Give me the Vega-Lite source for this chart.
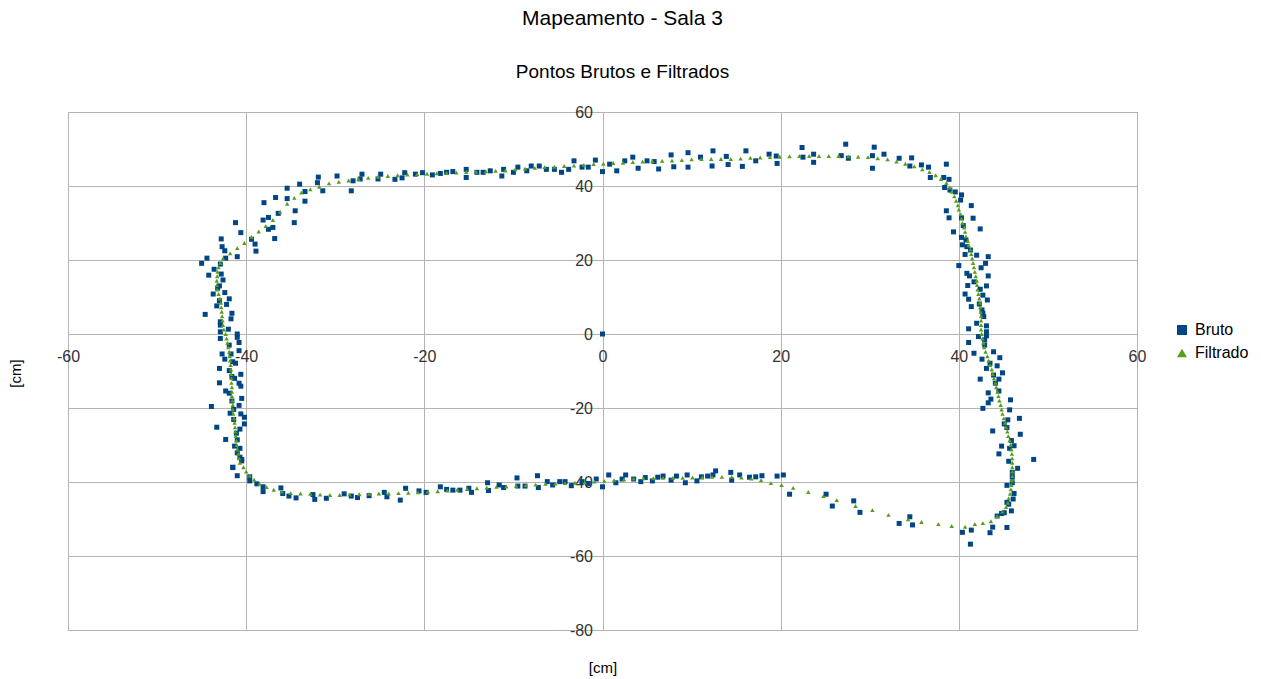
{
"$schema": "https://vega.github.io/schema/vega-lite/v6.json",
"width": 1069, "height": 518,
"autosize": {"type": "none"},
"padding": {"left": 68, "top": 112, "right": 124, "bottom": 49},
"background": "white",
"title": {"text": "Mapeamento - Sala 3", "subtitle": "Pontos Brutos e Filtrados", "anchor": "middle", "frame": "group", "dx": 20, "fontSize": 21, "subtitleFontSize": 19, "font": "Liberation Sans", "subtitleFont": "Liberation Sans", "fontWeight": "normal", "color": "#000", "subtitleColor": "#000", "offset": 22, "subtitlePadding": 34},
"config": {"view": {"stroke": "#b3b3b3", "strokeWidth": 1}, "font": "Liberation Sans"},
"data": {"values": [
{"x":0,"y":0,"s":"Bruto"},
{"x":-31.9,"y":42.4,"s":"Bruto"},{"x":-29.8,"y":42.7,"s":"Bruto"},{"x":-32,"y":40.9,"s":"Bruto"},{"x":-34,"y":40.5,"s":"Bruto"},{"x":-31.4,"y":38.7,"s":"Bruto"},{"x":-35.4,"y":39.4,"s":"Bruto"},{"x":-33.4,"y":38.5,"s":"Bruto"},{"x":-36.7,"y":36.9,"s":"Bruto"},{"x":-35.4,"y":36.6,"s":"Bruto"},{"x":-38,"y":35.5,"s":"Bruto"},{"x":-33.4,"y":35.9,"s":"Bruto"},{"x":-34.5,"y":33.3,"s":"Bruto"},{"x":-36.4,"y":32.6,"s":"Bruto"},{"x":-37.5,"y":31.5,"s":"Bruto"},{"x":-38.1,"y":30.8,"s":"Bruto"},{"x":-34.6,"y":30.1,"s":"Bruto"},{"x":-41.2,"y":30.1,"s":"Bruto"},{"x":-37,"y":28.8,"s":"Bruto"},{"x":-37.5,"y":28.3,"s":"Bruto"},{"x":-40.6,"y":27.4,"s":"Bruto"},{"x":-39.4,"y":25.6,"s":"Bruto"},{"x":-36.8,"y":25.8,"s":"Bruto"},{"x":-42.8,"y":25.7,"s":"Bruto"},{"x":-39,"y":24.3,"s":"Bruto"},{"x":-42.7,"y":23.6,"s":"Bruto"},{"x":-42.4,"y":22.5,"s":"Bruto"},{"x":-38.9,"y":22.4,"s":"Bruto"},{"x":-41,"y":20.9,"s":"Bruto"},{"x":-44.4,"y":20.5,"s":"Bruto"},{"x":-42.3,"y":20.5,"s":"Bruto"},{"x":-45,"y":19.1,"s":"Bruto"},{"x":-42.9,"y":18.9,"s":"Bruto"},{"x":-43.6,"y":17.5,"s":"Bruto"},{"x":-42.8,"y":16.2,"s":"Bruto"},{"x":-44.2,"y":15.9,"s":"Bruto"},{"x":-42.6,"y":14.6,"s":"Bruto"},{"x":-43,"y":13,"s":"Bruto"},{"x":-43.2,"y":12.4,"s":"Bruto"},{"x":-43.7,"y":10.8,"s":"Bruto"},{"x":-42.4,"y":11.2,"s":"Bruto"},{"x":-41.9,"y":9.5,"s":"Bruto"},{"x":-43,"y":9,"s":"Bruto"},{"x":-42.2,"y":8,"s":"Bruto"},{"x":-43.3,"y":7.6,"s":"Bruto"},{"x":-41.6,"y":5.6,"s":"Bruto"},{"x":-44.6,"y":5.3,"s":"Bruto"},{"x":-41.7,"y":4.1,"s":"Bruto"},{"x":-42.9,"y":3.3,"s":"Bruto"},{"x":-42.9,"y":2.4,"s":"Bruto"},{"x":-42,"y":1.3,"s":"Bruto"},{"x":-42.9,"y":0.6,"s":"Bruto"},{"x":-41,"y":0,"s":"Bruto"},{"x":-41,"y":-0.9,"s":"Bruto"},{"x":-42.9,"y":-1.2,"s":"Bruto"},
{"x":-41.9,"y":-3,"s":"Bruto"},{"x":-40.8,"y":-2.3,"s":"Bruto"},{"x":-42.7,"y":-5.4,"s":"Bruto"},{"x":-41.7,"y":-5.4,"s":"Bruto"},{"x":-40.8,"y":-4.5,"s":"Bruto"},{"x":-42.4,"y":-6.8,"s":"Bruto"},{"x":-41.5,"y":-7.5,"s":"Bruto"},{"x":-41.2,"y":-7.9,"s":"Bruto"},{"x":-43,"y":-9.3,"s":"Bruto"},{"x":-41.9,"y":-9.9,"s":"Bruto"},{"x":-40.6,"y":-10.9,"s":"Bruto"},{"x":-41.6,"y":-11.5,"s":"Bruto"},{"x":-41.3,"y":-12,"s":"Bruto"},{"x":-43,"y":-13.2,"s":"Bruto"},{"x":-40.8,"y":-13.3,"s":"Bruto"},{"x":-40.6,"y":-14.1,"s":"Bruto"},{"x":-42.3,"y":-15.4,"s":"Bruto"},{"x":-41.9,"y":-16,"s":"Bruto"},{"x":-40.5,"y":-17.4,"s":"Bruto"},{"x":-41.6,"y":-18.1,"s":"Bruto"},{"x":-40.8,"y":-19.3,"s":"Bruto"},{"x":-43.9,"y":-19.6,"s":"Bruto"},{"x":-41.4,"y":-20.4,"s":"Bruto"},{"x":-41.8,"y":-21.4,"s":"Bruto"},{"x":-40.6,"y":-21.6,"s":"Bruto"},{"x":-40.2,"y":-22.5,"s":"Bruto"},{"x":-41.4,"y":-23.1,"s":"Bruto"},{"x":-40.2,"y":-24.3,"s":"Bruto"},{"x":-43.3,"y":-25.2,"s":"Bruto"},{"x":-40.7,"y":-25.7,"s":"Bruto"},{"x":-41.1,"y":-26.8,"s":"Bruto"},{"x":-42.3,"y":-28.5,"s":"Bruto"},{"x":-41,"y":-28.6,"s":"Bruto"},{"x":-41.3,"y":-30.3,"s":"Bruto"},{"x":-40.7,"y":-30.9,"s":"Bruto"},{"x":-41,"y":-32.1,"s":"Bruto"},{"x":-40.7,"y":-33.3,"s":"Bruto"},{"x":-40.5,"y":-33.9,"s":"Bruto"},{"x":-41.5,"y":-36.1,"s":"Bruto"},{"x":-41,"y":-38.3,"s":"Bruto"},{"x":-39.6,"y":-39.7,"s":"Bruto"},{"x":-38.8,"y":-40.5,"s":"Bruto"},{"x":-38.1,"y":-41.3,"s":"Bruto"},{"x":-38.1,"y":-42.6,"s":"Bruto"},{"x":-36.1,"y":-41.6,"s":"Bruto"},{"x":-35.9,"y":-43.1,"s":"Bruto"},{"x":-35.2,"y":-43.8,"s":"Bruto"},{"x":-34.4,"y":-44.3,"s":"Bruto"},{"x":-32.5,"y":-43.4,"s":"Bruto"},{"x":-32.3,"y":-44.7,"s":"Bruto"},{"x":-31,"y":-44.4,"s":"Bruto"},
{"x":-28.2,"y":38.7,"s":"Bruto"},{"x":-28,"y":41.4,"s":"Bruto"},{"x":-27.2,"y":41.9,"s":"Bruto"},{"x":-27,"y":43.2,"s":"Bruto"},{"x":-25.2,"y":41.9,"s":"Bruto"},{"x":-24.9,"y":43.2,"s":"Bruto"},{"x":-23.3,"y":41.8,"s":"Bruto"},{"x":-22.5,"y":42.2,"s":"Bruto"},{"x":-22.2,"y":43.6,"s":"Bruto"},{"x":-21,"y":43.2,"s":"Bruto"},{"x":-20.2,"y":43.6,"s":"Bruto"},{"x":-19.1,"y":43,"s":"Bruto"},{"x":-18.2,"y":43.4,"s":"Bruto"},{"x":-17.5,"y":43.7,"s":"Bruto"},{"x":-16.8,"y":43.9,"s":"Bruto"},{"x":-15.3,"y":44.5,"s":"Bruto"},{"x":-15.3,"y":42.3,"s":"Bruto"},{"x":-14.1,"y":43.7,"s":"Bruto"},{"x":-13.4,"y":43.7,"s":"Bruto"},{"x":-12.6,"y":44.1,"s":"Bruto"},{"x":-11.3,"y":42.7,"s":"Bruto"},{"x":-11.1,"y":44.5,"s":"Bruto"},{"x":-10,"y":43.7,"s":"Bruto"},{"x":-9.5,"y":45.1,"s":"Bruto"},{"x":-8.5,"y":44.1,"s":"Bruto"},{"x":-8,"y":45.4,"s":"Bruto"},{"x":-7.1,"y":45.4,"s":"Bruto"},{"x":-6.3,"y":44.5,"s":"Bruto"},{"x":-5.4,"y":44.5,"s":"Bruto"},{"x":-4.6,"y":43.7,"s":"Bruto"},{"x":-3.8,"y":44.5,"s":"Bruto"},{"x":-3.2,"y":46.8,"s":"Bruto"},{"x":-2.3,"y":45.1,"s":"Bruto"},{"x":-1.6,"y":45.1,"s":"Bruto"},{"x":-0.8,"y":47,"s":"Bruto"},{"x":0,"y":43.9,"s":"Bruto"},{"x":0.8,"y":45.9,"s":"Bruto"},{"x":1.6,"y":44.1,"s":"Bruto"},
{"x":2.5,"y":46.8,"s":"Bruto"},{"x":3.4,"y":47.8,"s":"Bruto"},{"x":4,"y":44.8,"s":"Bruto"},{"x":5,"y":46.8,"s":"Bruto"},{"x":5.8,"y":46.6,"s":"Bruto"},{"x":6.3,"y":44.6,"s":"Bruto"},{"x":7.7,"y":48.4,"s":"Bruto"},{"x":8,"y":45.2,"s":"Bruto"},{"x":9.6,"y":45.1,"s":"Bruto"},{"x":9.6,"y":49,"s":"Bruto"},{"x":11,"y":47.8,"s":"Bruto"},{"x":12.3,"y":45.4,"s":"Bruto"},{"x":12.4,"y":49.5,"s":"Bruto"},{"x":13.9,"y":48,"s":"Bruto"},{"x":14.1,"y":45.8,"s":"Bruto"},{"x":15.7,"y":45.3,"s":"Bruto"},{"x":16.1,"y":49.5,"s":"Bruto"},{"x":17.2,"y":46.8,"s":"Bruto"},{"x":18.7,"y":48.6,"s":"Bruto"},{"x":19.5,"y":48.1,"s":"Bruto"},{"x":19.6,"y":46.1,"s":"Bruto"},{"x":22.4,"y":50.4,"s":"Bruto"},{"x":22.5,"y":47.8,"s":"Bruto"},{"x":23.7,"y":48.6,"s":"Bruto"},{"x":23.7,"y":46.4,"s":"Bruto"},{"x":26.8,"y":48.2,"s":"Bruto"},{"x":27.3,"y":51.3,"s":"Bruto"},{"x":27.6,"y":47.5,"s":"Bruto"},{"x":30.3,"y":48.2,"s":"Bruto"},{"x":30.5,"y":50.5,"s":"Bruto"},{"x":30.3,"y":44.8,"s":"Bruto"},{"x":31.6,"y":48.6,"s":"Bruto"},{"x":33.3,"y":47.5,"s":"Bruto"},{"x":34.7,"y":47.6,"s":"Bruto"},{"x":34.5,"y":45.4,"s":"Bruto"},{"x":35.8,"y":45.7,"s":"Bruto"},{"x":36.6,"y":45.1,"s":"Bruto"},{"x":36.8,"y":42.3,"s":"Bruto"},{"x":38.6,"y":45.9,"s":"Bruto"},{"x":38.3,"y":42.3,"s":"Bruto"},{"x":38.9,"y":41.8,"s":"Bruto"},{"x":38.4,"y":39.6,"s":"Bruto"},{"x":39,"y":38.9,"s":"Bruto"},
{"x":39.6,"y":38.4,"s":"Bruto"},{"x":40.3,"y":37.6,"s":"Bruto"},{"x":40.2,"y":36.2,"s":"Bruto"},{"x":41.4,"y":34.7,"s":"Bruto"},{"x":38.6,"y":33.3,"s":"Bruto"},{"x":38.9,"y":31.4,"s":"Bruto"},{"x":40.3,"y":31.4,"s":"Bruto"},{"x":41.6,"y":31.3,"s":"Bruto"},{"x":40.5,"y":29.3,"s":"Bruto"},{"x":42.4,"y":28.4,"s":"Bruto"},{"x":39.4,"y":27.6,"s":"Bruto"},{"x":40.3,"y":26.1,"s":"Bruto"},{"x":40.8,"y":25.4,"s":"Bruto"},{"x":40.4,"y":24.1,"s":"Bruto"},{"x":40.9,"y":23.6,"s":"Bruto"},{"x":41.3,"y":22.7,"s":"Bruto"},{"x":40.7,"y":21.5,"s":"Bruto"},{"x":42,"y":21.3,"s":"Bruto"},{"x":43.3,"y":20.9,"s":"Bruto"},{"x":43,"y":19.1,"s":"Bruto"},{"x":40,"y":18.5,"s":"Bruto"},{"x":42.5,"y":17.9,"s":"Bruto"},{"x":40.9,"y":16.4,"s":"Bruto"},{"x":41.2,"y":15.7,"s":"Bruto"},{"x":43.3,"y":15.7,"s":"Bruto"},{"x":41.7,"y":14.1,"s":"Bruto"},{"x":41,"y":13.1,"s":"Bruto"},{"x":42.4,"y":12.1,"s":"Bruto"},{"x":43.1,"y":13,"s":"Bruto"},{"x":40.7,"y":10.8,"s":"Bruto"},{"x":42.7,"y":10.5,"s":"Bruto"},{"x":41.1,"y":9.4,"s":"Bruto"},{"x":43.2,"y":9.2,"s":"Bruto"},{"x":42.3,"y":8.1,"s":"Bruto"},{"x":41.4,"y":7.4,"s":"Bruto"},{"x":42.6,"y":6.5,"s":"Bruto"},{"x":42.7,"y":5.6,"s":"Bruto"},{"x":42.8,"y":4.7,"s":"Bruto"},{"x":42,"y":2.9,"s":"Bruto"},{"x":43.1,"y":2.2,"s":"Bruto"},{"x":41.1,"y":1.4,"s":"Bruto"},{"x":43.1,"y":0.6,"s":"Bruto"},{"x":42.2,"y":-0.7,"s":"Bruto"},{"x":43.1,"y":-0.5,"s":"Bruto"},
{"x":41.1,"y":-2.3,"s":"Bruto"},{"x":42.9,"y":-3,"s":"Bruto"},{"x":42.9,"y":-1.6,"s":"Bruto"},{"x":41.7,"y":-5.2,"s":"Bruto"},{"x":43.9,"y":-4.8,"s":"Bruto"},{"x":42.6,"y":-6.8,"s":"Bruto"},{"x":44.6,"y":-6.4,"s":"Bruto"},{"x":43.5,"y":-7.9,"s":"Bruto"},{"x":44.3,"y":-8.6,"s":"Bruto"},{"x":43.1,"y":-9.3,"s":"Bruto"},{"x":44.9,"y":-10.5,"s":"Bruto"},{"x":43.9,"y":-11.1,"s":"Bruto"},{"x":44.5,"y":-12.2,"s":"Bruto"},{"x":42.4,"y":-12.2,"s":"Bruto"},{"x":44.1,"y":-13.3,"s":"Bruto"},{"x":44.5,"y":-15.4,"s":"Bruto"},{"x":43.3,"y":-15.9,"s":"Bruto"},{"x":43.6,"y":-17.6,"s":"Bruto"},{"x":43.3,"y":-18.6,"s":"Bruto"},{"x":45.8,"y":-17.8,"s":"Bruto"},{"x":42.7,"y":-20.1,"s":"Bruto"},{"x":45.7,"y":-20.5,"s":"Bruto"},{"x":46.8,"y":-22.8,"s":"Bruto"},{"x":45.5,"y":-23.2,"s":"Bruto"},{"x":45.1,"y":-24.3,"s":"Bruto"},{"x":45.4,"y":-25.3,"s":"Bruto"},{"x":43.8,"y":-26.2,"s":"Bruto"},{"x":46.9,"y":-27.1,"s":"Bruto"},{"x":45.9,"y":-28.8,"s":"Bruto"},{"x":46.2,"y":-30.2,"s":"Bruto"},{"x":44.8,"y":-30.3,"s":"Bruto"},{"x":45.7,"y":-30.9,"s":"Bruto"},{"x":44.5,"y":-32.4,"s":"Bruto"},{"x":48.4,"y":-33.9,"s":"Bruto"},{"x":45.6,"y":-34.4,"s":"Bruto"},{"x":46.6,"y":-36.3,"s":"Bruto"},{"x":46,"y":-37.4,"s":"Bruto"},{"x":46,"y":-38.7,"s":"Bruto"},{"x":46,"y":-40.2,"s":"Bruto"},{"x":45.4,"y":-40.9,"s":"Bruto"},{"x":46.2,"y":-43.1,"s":"Bruto"},{"x":46.1,"y":-44.6,"s":"Bruto"},{"x":45.4,"y":-45.5,"s":"Bruto"},{"x":45.6,"y":-46,"s":"Bruto"},{"x":45.9,"y":-47.8,"s":"Bruto"},{"x":45.1,"y":-48.3,"s":"Bruto"},{"x":44.8,"y":-48.5,"s":"Bruto"},{"x":44.3,"y":-49.2,"s":"Bruto"},{"x":43.8,"y":-52.2,"s":"Bruto"},{"x":45.4,"y":-52.3,"s":"Bruto"},{"x":43.5,"y":-53.7,"s":"Bruto"},{"x":41.4,"y":-53,"s":"Bruto"},{"x":40.4,"y":-53.6,"s":"Bruto"},{"x":41.3,"y":-56.8,"s":"Bruto"},
{"x":0,"y":-41.3,"s":"Bruto"},{"x":0.7,"y":-38.1,"s":"Bruto"},{"x":1.5,"y":-40.2,"s":"Bruto"},{"x":2.2,"y":-39.2,"s":"Bruto"},{"x":2.6,"y":-38.1,"s":"Bruto"},{"x":3.5,"y":-39.2,"s":"Bruto"},{"x":4.3,"y":-39.9,"s":"Bruto"},{"x":4.8,"y":-38.8,"s":"Bruto"},{"x":5.6,"y":-39.7,"s":"Bruto"},{"x":6.2,"y":-38.7,"s":"Bruto"},{"x":6.8,"y":-38.4,"s":"Bruto"},{"x":7.7,"y":-39.5,"s":"Bruto"},{"x":8.3,"y":-38.4,"s":"Bruto"},{"x":9.3,"y":-40.2,"s":"Bruto"},{"x":9.5,"y":-38.1,"s":"Bruto"},{"x":10.6,"y":-39.7,"s":"Bruto"},{"x":11.1,"y":-38.6,"s":"Bruto"},{"x":11.8,"y":-38.4,"s":"Bruto"},{"x":12.4,"y":-38.1,"s":"Bruto"},{"x":12.7,"y":-37,"s":"Bruto"},{"x":14.4,"y":-37.4,"s":"Bruto"},{"x":14.5,"y":-39.5,"s":"Bruto"},{"x":15.4,"y":-38.1,"s":"Bruto"},{"x":16.5,"y":-38.7,"s":"Bruto"},{"x":17.2,"y":-38.6,"s":"Bruto"},{"x":17.9,"y":-38.3,"s":"Bruto"},{"x":19.6,"y":-38.4,"s":"Bruto"},{"x":20.3,"y":-38.1,"s":"Bruto"},{"x":21,"y":-43.3,"s":"Bruto"},{"x":25.1,"y":-43.3,"s":"Bruto"},{"x":25.8,"y":-46.5,"s":"Bruto"},{"x":28.2,"y":-45.1,"s":"Bruto"},{"x":28.9,"y":-48.2,"s":"Bruto"},{"x":33.3,"y":-51.2,"s":"Bruto"},{"x":34.5,"y":-49.4,"s":"Bruto"},{"x":34.8,"y":-51.6,"s":"Bruto"},
{"x":-41.5,"y":-36,"s":"Bruto"},{"x":-40.5,"y":-34.3,"s":"Bruto"},{"x":-39.6,"y":-38.6,"s":"Bruto"},{"x":-29,"y":-43.2,"s":"Bruto"},{"x":-28.2,"y":-43.8,"s":"Bruto"},{"x":-27.5,"y":-44.2,"s":"Bruto"},{"x":-26.2,"y":-43.7,"s":"Bruto"},{"x":-24.5,"y":-42.8,"s":"Bruto"},{"x":-24.2,"y":-44,"s":"Bruto"},{"x":-22.7,"y":-44.9,"s":"Bruto"},{"x":-22.1,"y":-41.7,"s":"Bruto"},{"x":-20.6,"y":-42.4,"s":"Bruto"},{"x":-19.8,"y":-42.8,"s":"Bruto"},{"x":-18.2,"y":-41.3,"s":"Bruto"},{"x":-17.5,"y":-42,"s":"Bruto"},{"x":-16.8,"y":-42.2,"s":"Bruto"},{"x":-16,"y":-42.2,"s":"Bruto"},{"x":-15,"y":-41.7,"s":"Bruto"},{"x":-14.7,"y":-42.8,"s":"Bruto"},{"x":-12.9,"y":-40.2,"s":"Bruto"},{"x":-12.8,"y":-42.3,"s":"Bruto"},{"x":-11.6,"y":-40.8,"s":"Bruto"},{"x":-11.1,"y":-41.5,"s":"Bruto"},{"x":-9.6,"y":-38.9,"s":"Bruto"},{"x":-9.5,"y":-41.1,"s":"Bruto"},{"x":-8.7,"y":-41.1,"s":"Bruto"},{"x":-7.3,"y":-38.3,"s":"Bruto"},{"x":-7.2,"y":-41.5,"s":"Bruto"},{"x":-6.2,"y":-39.9,"s":"Bruto"},{"x":-5.6,"y":-40.8,"s":"Bruto"},{"x":-4.8,"y":-39.9,"s":"Bruto"},{"x":-4.2,"y":-39.9,"s":"Bruto"},{"x":-3.5,"y":-41,"s":"Bruto"},{"x":-2.3,"y":-39.9,"s":"Bruto"},{"x":-1.6,"y":-40.4,"s":"Bruto"},{"x":-0.7,"y":-39.2,"s":"Bruto"},
{"x":-40.3,"y":-36,"s":"Filtrado"},{"x":-40.7,"y":-34.8,"s":"Filtrado"},{"x":-40.8,"y":-33.6,"s":"Filtrado"},{"x":-40.9,"y":-32.4,"s":"Filtrado"},{"x":-41,"y":-31.2,"s":"Filtrado"},{"x":-41.05,"y":-30,"s":"Filtrado"},{"x":-41.1,"y":-28.8,"s":"Filtrado"},{"x":-41.15,"y":-27.6,"s":"Filtrado"},{"x":-41.2,"y":-26.4,"s":"Filtrado"},{"x":-41.25,"y":-25.2,"s":"Filtrado"},{"x":-41.3,"y":-24,"s":"Filtrado"},{"x":-41.35,"y":-22.8,"s":"Filtrado"},{"x":-41.45,"y":-21.6,"s":"Filtrado"},{"x":-41.5,"y":-20.4,"s":"Filtrado"},{"x":-41.5,"y":-19.2,"s":"Filtrado"},{"x":-41.55,"y":-18,"s":"Filtrado"},{"x":-41.6,"y":-16.8,"s":"Filtrado"},{"x":-41.6,"y":-15.6,"s":"Filtrado"},{"x":-41.6,"y":-14.4,"s":"Filtrado"},{"x":-41.65,"y":-13.2,"s":"Filtrado"},{"x":-41.65,"y":-12,"s":"Filtrado"},{"x":-41.7,"y":-10.8,"s":"Filtrado"},{"x":-41.7,"y":-9.6,"s":"Filtrado"},{"x":-41.75,"y":-8.4,"s":"Filtrado"},{"x":-41.8,"y":-7.2,"s":"Filtrado"},{"x":-41.85,"y":-6,"s":"Filtrado"},{"x":-41.9,"y":-4.8,"s":"Filtrado"},{"x":-42,"y":-3.6,"s":"Filtrado"},{"x":-42.1,"y":-2.4,"s":"Filtrado"},{"x":-42.2,"y":-1.2,"s":"Filtrado"},{"x":-42.3,"y":0,"s":"Filtrado"},{"x":-42.5,"y":1.2,"s":"Filtrado"},{"x":-42.6,"y":2.4,"s":"Filtrado"},{"x":-42.65,"y":3.6,"s":"Filtrado"},{"x":-42.7,"y":4.8,"s":"Filtrado"},{"x":-42.75,"y":6,"s":"Filtrado"},{"x":-42.8,"y":7.2,"s":"Filtrado"},{"x":-42.85,"y":8.4,"s":"Filtrado"},{"x":-42.95,"y":9.6,"s":"Filtrado"},{"x":-43.1,"y":10.8,"s":"Filtrado"},{"x":-43.25,"y":12,"s":"Filtrado"},{"x":-43.3,"y":13.2,"s":"Filtrado"},{"x":-43.3,"y":14.4,"s":"Filtrado"},{"x":-43.25,"y":15.6,"s":"Filtrado"},{"x":-43.2,"y":16.8,"s":"Filtrado"},{"x":-43.1,"y":18,"s":"Filtrado"},{"x":-42.9,"y":19.2,"s":"Filtrado"},{"x":-42.6,"y":20.4,"s":"Filtrado"},
{"x":-41.8,"y":21.8,"s":"Filtrado"},{"x":-41,"y":23.2,"s":"Filtrado"},{"x":-40.2,"y":24.6,"s":"Filtrado"},{"x":-39.4,"y":26.2,"s":"Filtrado"},{"x":-38.6,"y":27.7,"s":"Filtrado"},{"x":-37.8,"y":29.2,"s":"Filtrado"},{"x":-37,"y":30.8,"s":"Filtrado"},{"x":-36.2,"y":33,"s":"Filtrado"},{"x":-35.4,"y":35.2,"s":"Filtrado"},{"x":-34.6,"y":36.8,"s":"Filtrado"},{"x":-33.8,"y":38.2,"s":"Filtrado"},{"x":-32.8,"y":39.1,"s":"Filtrado"},{"x":-31.8,"y":39.8,"s":"Filtrado"},
{"x":-30.7,"y":40.7,"s":"Filtrado"},{"x":-29.6,"y":41.1,"s":"Filtrado"},{"x":-28.5,"y":41.5,"s":"Filtrado"},{"x":-27.4,"y":41.9,"s":"Filtrado"},{"x":-26.3,"y":42.2,"s":"Filtrado"},{"x":-25.2,"y":42.5,"s":"Filtrado"},{"x":-24.1,"y":42.7,"s":"Filtrado"},{"x":-23,"y":42.9,"s":"Filtrado"},{"x":-21.9,"y":43.1,"s":"Filtrado"},{"x":-20.8,"y":43.2,"s":"Filtrado"},{"x":-19.7,"y":43.3,"s":"Filtrado"},{"x":-18.6,"y":43.4,"s":"Filtrado"},{"x":-17.5,"y":43.5,"s":"Filtrado"},{"x":-16.4,"y":43.6,"s":"Filtrado"},{"x":-15.3,"y":43.8,"s":"Filtrado"},{"x":-14.2,"y":43.9,"s":"Filtrado"},{"x":-13.1,"y":44,"s":"Filtrado"},{"x":-12,"y":44.1,"s":"Filtrado"},{"x":-10.9,"y":44.2,"s":"Filtrado"},{"x":-9.8,"y":44.5,"s":"Filtrado"},{"x":-8.7,"y":44.7,"s":"Filtrado"},{"x":-7.6,"y":44.9,"s":"Filtrado"},{"x":-6.5,"y":45.1,"s":"Filtrado"},{"x":-5.4,"y":45.2,"s":"Filtrado"},{"x":-4.3,"y":45.4,"s":"Filtrado"},{"x":-3.2,"y":45.5,"s":"Filtrado"},{"x":-2.1,"y":45.7,"s":"Filtrado"},{"x":-1,"y":45.9,"s":"Filtrado"},{"x":0.1,"y":46,"s":"Filtrado"},{"x":1.2,"y":46.2,"s":"Filtrado"},{"x":2.3,"y":46.3,"s":"Filtrado"},{"x":3.4,"y":46.5,"s":"Filtrado"},{"x":4.5,"y":46.6,"s":"Filtrado"},{"x":5.6,"y":46.7,"s":"Filtrado"},{"x":6.7,"y":46.8,"s":"Filtrado"},{"x":7.8,"y":46.9,"s":"Filtrado"},{"x":8.9,"y":47,"s":"Filtrado"},{"x":10,"y":47.2,"s":"Filtrado"},{"x":11.1,"y":47.3,"s":"Filtrado"},{"x":12.2,"y":47.3,"s":"Filtrado"},{"x":13.3,"y":47.3,"s":"Filtrado"},{"x":14.4,"y":47.3,"s":"Filtrado"},{"x":15.5,"y":47.4,"s":"Filtrado"},{"x":16.6,"y":47.6,"s":"Filtrado"},{"x":17.7,"y":47.7,"s":"Filtrado"},{"x":18.8,"y":47.8,"s":"Filtrado"},{"x":19.9,"y":47.9,"s":"Filtrado"},{"x":21,"y":48,"s":"Filtrado"},{"x":22.1,"y":48.1,"s":"Filtrado"},{"x":23.2,"y":48.1,"s":"Filtrado"},{"x":24.3,"y":48.1,"s":"Filtrado"},{"x":25.4,"y":48.1,"s":"Filtrado"},{"x":26.5,"y":48.1,"s":"Filtrado"},{"x":27.6,"y":48,"s":"Filtrado"},{"x":28.7,"y":47.9,"s":"Filtrado"},{"x":29.8,"y":47.8,"s":"Filtrado"},{"x":30.9,"y":47.5,"s":"Filtrado"},{"x":32,"y":47.2,"s":"Filtrado"},{"x":33,"y":46.6,"s":"Filtrado"},{"x":34,"y":46,"s":"Filtrado"},{"x":35,"y":45.3,"s":"Filtrado"},{"x":35.9,"y":44.5,"s":"Filtrado"},{"x":36.7,"y":43.8,"s":"Filtrado"},{"x":37.4,"y":42.9,"s":"Filtrado"},{"x":38,"y":41.9,"s":"Filtrado"},{"x":38.6,"y":40.8,"s":"Filtrado"},{"x":39,"y":39.6,"s":"Filtrado"},
{"x":39.2,"y":38.4,"s":"Filtrado"},{"x":39.5,"y":37.2,"s":"Filtrado"},{"x":39.7,"y":36,"s":"Filtrado"},{"x":39.9,"y":34.8,"s":"Filtrado"},{"x":40,"y":33.6,"s":"Filtrado"},{"x":40.2,"y":32.4,"s":"Filtrado"},{"x":40.3,"y":31.2,"s":"Filtrado"},{"x":40.4,"y":30,"s":"Filtrado"},{"x":40.6,"y":28.8,"s":"Filtrado"},{"x":40.7,"y":27.6,"s":"Filtrado"},{"x":40.8,"y":26.4,"s":"Filtrado"},{"x":41,"y":25.2,"s":"Filtrado"},{"x":41.1,"y":24,"s":"Filtrado"},{"x":41.3,"y":22.8,"s":"Filtrado"},{"x":41.4,"y":21.6,"s":"Filtrado"},{"x":41.5,"y":20.4,"s":"Filtrado"},{"x":41.6,"y":19.2,"s":"Filtrado"},{"x":41.7,"y":18,"s":"Filtrado"},{"x":41.8,"y":16.8,"s":"Filtrado"},{"x":41.9,"y":15.6,"s":"Filtrado"},{"x":42,"y":14.4,"s":"Filtrado"},{"x":42.05,"y":13.2,"s":"Filtrado"},{"x":42.1,"y":12,"s":"Filtrado"},{"x":42.2,"y":10.8,"s":"Filtrado"},{"x":42.3,"y":9.6,"s":"Filtrado"},{"x":42.35,"y":8.4,"s":"Filtrado"},{"x":42.4,"y":7.2,"s":"Filtrado"},{"x":42.45,"y":6,"s":"Filtrado"},{"x":42.5,"y":4.8,"s":"Filtrado"},{"x":42.5,"y":3.6,"s":"Filtrado"},{"x":42.5,"y":2.4,"s":"Filtrado"},{"x":42.5,"y":1.2,"s":"Filtrado"},{"x":42.55,"y":0,"s":"Filtrado"},{"x":42.65,"y":-1.2,"s":"Filtrado"},{"x":42.75,"y":-2.4,"s":"Filtrado"},{"x":42.85,"y":-3.6,"s":"Filtrado"},{"x":43,"y":-4.8,"s":"Filtrado"},{"x":43.2,"y":-6,"s":"Filtrado"},{"x":43.35,"y":-7.2,"s":"Filtrado"},{"x":43.5,"y":-8.4,"s":"Filtrado"},{"x":43.7,"y":-9.6,"s":"Filtrado"},{"x":43.8,"y":-10.8,"s":"Filtrado"},{"x":43.95,"y":-12,"s":"Filtrado"},{"x":44.1,"y":-13.2,"s":"Filtrado"},{"x":44.2,"y":-14.4,"s":"Filtrado"},{"x":44.35,"y":-15.6,"s":"Filtrado"},{"x":44.45,"y":-16.8,"s":"Filtrado"},{"x":44.55,"y":-18,"s":"Filtrado"},{"x":44.7,"y":-19.2,"s":"Filtrado"},{"x":44.8,"y":-20.4,"s":"Filtrado"},{"x":44.9,"y":-21.6,"s":"Filtrado"},{"x":45.05,"y":-22.8,"s":"Filtrado"},{"x":45.2,"y":-24,"s":"Filtrado"},{"x":45.3,"y":-25.2,"s":"Filtrado"},{"x":45.45,"y":-26.4,"s":"Filtrado"},{"x":45.55,"y":-27.6,"s":"Filtrado"},{"x":45.7,"y":-28.8,"s":"Filtrado"},{"x":45.8,"y":-30,"s":"Filtrado"},{"x":45.9,"y":-31.2,"s":"Filtrado"},{"x":45.95,"y":-32.4,"s":"Filtrado"},{"x":46,"y":-33.6,"s":"Filtrado"},{"x":46,"y":-34.8,"s":"Filtrado"},{"x":46,"y":-36,"s":"Filtrado"},{"x":46,"y":-37.2,"s":"Filtrado"},{"x":46,"y":-38.4,"s":"Filtrado"},{"x":45.95,"y":-39.6,"s":"Filtrado"},{"x":45.9,"y":-40.8,"s":"Filtrado"},{"x":45.85,"y":-42,"s":"Filtrado"},{"x":45.75,"y":-43.2,"s":"Filtrado"},{"x":45.6,"y":-44.4,"s":"Filtrado"},{"x":45.5,"y":-45.6,"s":"Filtrado"},{"x":45.3,"y":-46.8,"s":"Filtrado"},{"x":44.9,"y":-48,"s":"Filtrado"},{"x":44.3,"y":-49.2,"s":"Filtrado"},
{"x":43.6,"y":-50.6,"s":"Filtrado"},{"x":42.7,"y":-51.1,"s":"Filtrado"},{"x":41.8,"y":-51.4,"s":"Filtrado"},{"x":40.7,"y":-52.1,"s":"Filtrado"},{"x":39.2,"y":-51.9,"s":"Filtrado"},{"x":37.7,"y":-51.4,"s":"Filtrado"},{"x":35.8,"y":-50.8,"s":"Filtrado"},{"x":34.3,"y":-50.1,"s":"Filtrado"},{"x":32.1,"y":-48.9,"s":"Filtrado"},{"x":30.3,"y":-47.6,"s":"Filtrado"},{"x":28.4,"y":-46.5,"s":"Filtrado"},{"x":26.3,"y":-44.9,"s":"Filtrado"},{"x":24.8,"y":-43.8,"s":"Filtrado"},{"x":23.1,"y":-42.7,"s":"Filtrado"},{"x":21.4,"y":-41.6,"s":"Filtrado"},{"x":20.1,"y":-40.8,"s":"Filtrado"},{"x":18.9,"y":-40.3,"s":"Filtrado"},{"x":17.8,"y":-39.5,"s":"Filtrado"},
{"x":16.7,"y":-39.1,"s":"Filtrado"},{"x":15.6,"y":-38.8,"s":"Filtrado"},{"x":14.5,"y":-38.6,"s":"Filtrado"},{"x":13.4,"y":-38.6,"s":"Filtrado"},{"x":12.3,"y":-38.6,"s":"Filtrado"},{"x":11.2,"y":-38.7,"s":"Filtrado"},{"x":10.1,"y":-38.8,"s":"Filtrado"},{"x":9,"y":-38.9,"s":"Filtrado"},{"x":7.9,"y":-38.9,"s":"Filtrado"},{"x":6.8,"y":-38.9,"s":"Filtrado"},{"x":5.7,"y":-39,"s":"Filtrado"},{"x":4.6,"y":-39,"s":"Filtrado"},{"x":3.5,"y":-39.1,"s":"Filtrado"},{"x":2.4,"y":-39.3,"s":"Filtrado"},{"x":1.3,"y":-39.5,"s":"Filtrado"},{"x":0.2,"y":-39.7,"s":"Filtrado"},{"x":-0.9,"y":-39.9,"s":"Filtrado"},{"x":-2,"y":-40.1,"s":"Filtrado"},{"x":-3.1,"y":-40.2,"s":"Filtrado"},{"x":-4.2,"y":-40.3,"s":"Filtrado"},{"x":-5.3,"y":-40.4,"s":"Filtrado"},{"x":-6.4,"y":-40.5,"s":"Filtrado"},{"x":-7.5,"y":-40.7,"s":"Filtrado"},{"x":-8.6,"y":-40.9,"s":"Filtrado"},{"x":-9.7,"y":-41,"s":"Filtrado"},{"x":-10.8,"y":-41.2,"s":"Filtrado"},{"x":-11.9,"y":-41.3,"s":"Filtrado"},{"x":-13,"y":-41.5,"s":"Filtrado"},{"x":-14.1,"y":-41.7,"s":"Filtrado"},{"x":-15.2,"y":-41.9,"s":"Filtrado"},{"x":-16.3,"y":-42.1,"s":"Filtrado"},{"x":-17.4,"y":-42.3,"s":"Filtrado"},{"x":-18.5,"y":-42.5,"s":"Filtrado"},{"x":-19.6,"y":-42.6,"s":"Filtrado"},{"x":-20.7,"y":-42.8,"s":"Filtrado"},{"x":-21.8,"y":-42.9,"s":"Filtrado"},{"x":-22.9,"y":-43,"s":"Filtrado"},{"x":-24,"y":-43.1,"s":"Filtrado"},{"x":-25.1,"y":-43.1,"s":"Filtrado"},{"x":-26.2,"y":-43.2,"s":"Filtrado"},{"x":-27.3,"y":-43.3,"s":"Filtrado"},{"x":-28.4,"y":-43.4,"s":"Filtrado"},{"x":-29.5,"y":-43.5,"s":"Filtrado"},{"x":-30.6,"y":-43.5,"s":"Filtrado"},{"x":-31.7,"y":-43.4,"s":"Filtrado"},{"x":-32.8,"y":-43.2,"s":"Filtrado"},{"x":-33.9,"y":-43.1,"s":"Filtrado"},{"x":-35,"y":-43,"s":"Filtrado"},{"x":-36,"y":-42.6,"s":"Filtrado"},{"x":-36.9,"y":-42.1,"s":"Filtrado"},{"x":-37.7,"y":-41.4,"s":"Filtrado"},{"x":-38.5,"y":-40.5,"s":"Filtrado"},{"x":-39.1,"y":-39.4,"s":"Filtrado"},{"x":-39.6,"y":-38.3,"s":"Filtrado"},{"x":-40,"y":-37.2,"s":"Filtrado"}
]},
"encoding": {
  "x": {"field": "x", "type": "quantitative", "scale": {"domain": [-60, 60], "nice": false, "zero": false},
    "axis": {"values": [-60, -40, -20, 0, 20, 40, 60], "labelExpr": "'' + datum.value", "offset": -296, "domain": false, "ticks": false, "grid": true, "gridColor": "#b3b3b3", "gridOpacity": 1, "labelFlush": false, "labelOverlap": false, "labelBound": false, "labelFontSize": 16, "labelColor": "#333", "labelPadding": 14, "labelFont": "Liberation Sans",
      "title": "[cm]", "titleFontSize": 15, "titleFontWeight": "normal", "titleColor": "#000", "titleFont": "Liberation Sans", "titleX": 534.5, "titleY": 333, "titleBaseline": "middle", "titleAlign": "center"}},
  "y": {"field": "y", "type": "quantitative", "scale": {"domain": [-80, 60], "nice": false, "zero": false},
    "axis": {"values": [-80, -60, -40, -20, 0, 20, 40, 60], "labelExpr": "'' + datum.value", "offset": -534.5, "domain": false, "ticks": false, "grid": true, "gridColor": "#b3b3b3", "gridOpacity": 1, "labelFlush": false, "labelOverlap": false, "labelBound": false, "labelFontSize": 16, "labelColor": "#333", "labelPadding": 10, "labelFont": "Liberation Sans",
      "title": "[cm]", "titleFontSize": 15, "titleFontWeight": "normal", "titleColor": "#000", "titleFont": "Liberation Sans", "titleX": -587.5, "titleY": 261, "titleBaseline": "middle", "titleAlign": "center", "titleAngle": -90}},
  "color": {"field": "s", "type": "nominal", "scale": {"domain": ["Bruto", "Filtrado"], "range": ["#004586", "#579d1c"]},
    "legend": {"title": null, "orient": "none", "legendX": 1106, "legendY": 210, "padding": 0, "symbolSize": 100, "labelFontSize": 16, "labelFont": "Liberation Sans", "labelColor": "#000", "labelOffset": 5, "rowPadding": 7, "symbolStrokeWidth": 0}},
  "shape": {"field": "s", "type": "nominal", "scale": {"domain": ["Bruto", "Filtrado"], "range": ["square", "triangle-up"]}}
},
"layer": [
  {"transform": [{"filter": "datum.s === 'Bruto'"}], "mark": {"type": "point", "filled": true, "opacity": 1, "strokeWidth": 0, "size": 25}},
  {"transform": [{"filter": "datum.s === 'Filtrado'"}], "mark": {"type": "point", "filled": true, "opacity": 1, "strokeWidth": 0, "size": 20}}
]
}
